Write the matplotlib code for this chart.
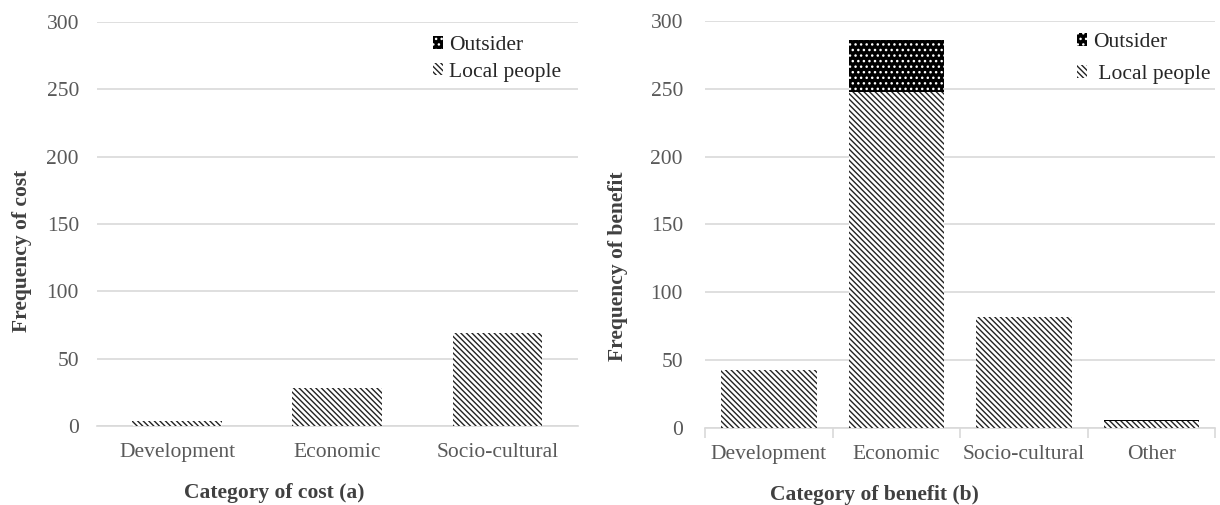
import matplotlib
matplotlib.use("Agg")
import matplotlib.pyplot as plt
import numpy as np
from matplotlib.patches import Patch

plt.rcParams['font.family'] = ['Liberation Serif', 'DejaVu Serif']
plt.rcParams['hatch.linewidth'] = 1.0

# cost panel (a)
cost_cats = ['Development', 'Economic', 'Socio-cultural']
cost_local = [4, 28, 69]
cost_outsider = [0, 0, 0]

# benefit panel (b)
benefit_cats = ['Development', 'Economic', 'Socio-cultural', 'Other']
benefit_local = [43, 248, 82, 5]
benefit_outsider = [0, 38, 0, 1]

yticks = [0, 50, 100, 150, 200, 250, 300]

GRID = '#d9d9d9'
TXT = '#595959'
LOCAL_HATCH = '\\\\\\\\\\\\'


def draw(ax, cats, local, outsider, width, xlabel, ylabel, sep_ticks,
         ypad, xlab_pos, ylab_pos, leg_pos, leg_labels, leg_space):
    x = np.arange(len(cats))
    ax.bar(x, local, width, color='white', edgecolor='#222222',
           hatch=LOCAL_HATCH, linewidth=0, zorder=3)
    ax.bar(x, outsider, width, bottom=local, color='black',
           edgecolor='white', hatch='...', linewidth=0, zorder=3)
    ax.set_xlim(-0.5, len(cats) - 0.5)
    ax.set_ylim(0, 300)
    ax.set_yticks(yticks)
    ax.yaxis.grid(True, color=GRID, linewidth=1.2, zorder=0)
    ax.set_axisbelow(True)
    for s in ['top', 'right', 'left']:
        ax.spines[s].set_visible(False)
    ax.spines['bottom'].set_color(GRID)
    ax.spines['bottom'].set_linewidth(1.2)
    ax.set_xticks(x)
    ax.set_xticklabels(cats)
    ax.tick_params(axis='y', length=0, labelsize=15.5, labelcolor=TXT, pad=ypad)
    ax.tick_params(axis='x', length=0, labelsize=15.5, labelcolor=TXT, pad=12)
    if sep_ticks:
        # separators between categories on the x axis
        ax.set_xticks(np.arange(len(cats) + 1) - 0.5, minor=True)
        ax.tick_params(axis='x', which='minor', length=7, color=GRID, width=1.2)
    ax.set_xlabel(xlabel, fontsize=15.5, fontweight='bold', color='#404040')
    ax.set_ylabel(ylabel, fontsize=15.5, fontweight='bold', color='#404040')
    ax.xaxis.set_label_coords(*xlab_pos)
    ax.yaxis.set_label_coords(*ylab_pos)
    handles = [Patch(facecolor='black', edgecolor='white', hatch='...', linewidth=0),
               Patch(facecolor='white', edgecolor='#222222', hatch=LOCAL_HATCH, linewidth=0)]
    ax.legend(handles, leg_labels, loc='upper left',
              bbox_to_anchor=leg_pos, frameon=False, fontsize=15.5,
              borderpad=0, borderaxespad=0,
              handlelength=0.45, handleheight=0.5, handletextpad=0.3,
              labelspacing=leg_space, labelcolor='#262626')


fig = plt.figure(figsize=(12.2, 5.05), dpi=100)
ax1 = fig.add_axes([0.0795, 0.1564, 0.394, 0.80])
ax2 = fig.add_axes([0.578, 0.1525, 0.418, 0.806])

draw(ax1, cost_cats, cost_local, cost_outsider, 0.56,
     'Category of cost (a)', 'Frequency of cost', False, 13,
     (0.368, -0.14), (-0.135, 0.433), (0.699, 0.965),
     ['Outsider', 'Local people'], 0.35)
draw(ax2, benefit_cats, benefit_local, benefit_outsider, 0.75,
     'Category of benefit (b)', 'Frequency of benefit', True, 16,
     (0.331, -0.14), (-0.151, 0.398), (0.729, 0.97),
     ['Outsider', ' Local people'], 0.6)

fig.savefig('out.png', dpi=100)
